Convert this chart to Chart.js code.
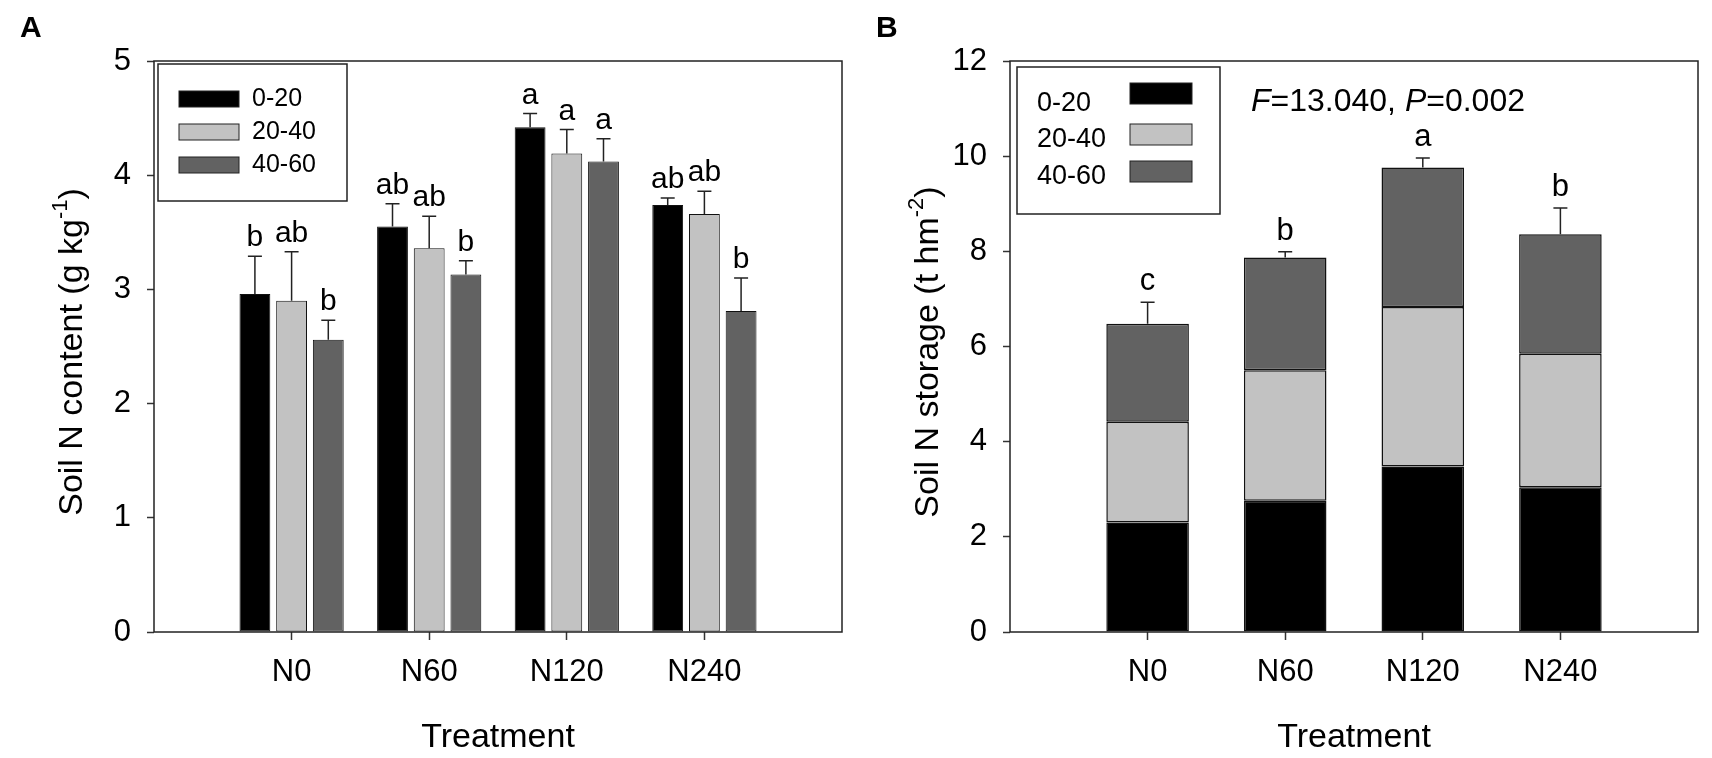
<!DOCTYPE html>
<html>
<head>
<meta charset="utf-8">
<script src="https://cdn.jsdelivr.net/npm/chart.js@4.4.0/dist/chart.umd.min.js"></script>
<style>
  html, body { margin: 0; padding: 0; background: #fff; }
  #wrap { position: relative; width: 1712px; height: 758px; overflow: hidden; }
  canvas { position: absolute; top: 0; }
</style>
</head>
<body>
<div id="wrap">
  <canvas id="chartA" width="856" height="758" style="left:0"></canvas>
  <canvas id="chartB" width="856" height="758" style="left:856px"></canvas>
</div>
<script>
// categories + depth layers
var categories = ['N0', 'N60', 'N120', 'N240'];
var depthLabels = ['0-20', '20-40', '40-60'];
var depthColors = ['#000000', '#c2c2c2', '#626262'];

// A - soil N content (g kg-1)
var contentTop = [2.96, 3.55, 4.42, 3.74];
var contentMid = [2.90, 3.36, 4.19, 3.66];
var contentDeep = [2.56, 3.13, 4.12, 2.81];
var contentTopErr = [0.33, 0.20, 0.12, 0.06];
var contentMidErr = [0.43, 0.28, 0.21, 0.20];
var contentDeepErr = [0.17, 0.12, 0.20, 0.29];
var contentTopSig = ['b', 'ab', 'a', 'ab'];
var contentMidSig = ['ab', 'ab', 'a', 'ab'];
var contentDeepSig = ['b', 'b', 'a', 'b'];
var contentTicks = [0, 1, 2, 3, 4, 5];

// B - soil N storage (t hm-2), stacked
var storageTop = [2.30, 2.76, 3.48, 3.04];
var storageMid = [2.12, 2.74, 3.35, 2.81];
var storageDeep = [2.06, 2.37, 2.93, 2.51];
var storageErr = [0.45, 0.12, 0.20, 0.55];
var storageSig = ['c', 'b', 'a', 'b'];
var storageTicks = [0, 2, 4, 6, 8, 10, 12];

var FONT = "'Liberation Sans', Arial, Helvetica, sans-serif";
Chart.defaults.font.family = FONT;
Chart.defaults.color = '#000';

// empty slot each side so the categories sit at 1..4 of a 0..5 axis
function pad(arr) { return [null].concat(arr, [null]); }
var paddedLabels = [''].concat(categories, ['']);

function drawYTitle(ctx, x, y, main, sup, tail) {
	ctx.save();
	ctx.translate(x, y);
	ctx.rotate(-Math.PI / 2);
	ctx.fillStyle = '#000';
	ctx.textAlign = 'left';
	ctx.textBaseline = 'alphabetic';
	ctx.font = '34px ' + FONT;
	var w1 = ctx.measureText(main).width;
	var w3 = ctx.measureText(tail).width;
	ctx.font = '22px ' + FONT;
	var w2 = ctx.measureText(sup).width;
	var start = -(w1 + w2 + w3) / 2;
	ctx.font = '34px ' + FONT;
	ctx.fillText(main, start, 12);
	ctx.fillText(tail, start + w1 + w2, 12);
	ctx.font = '22px ' + FONT;
	ctx.fillText(sup, start + w1, -3);
	ctx.restore();
}

function drawFrame(chart) {
	var a = chart.chartArea, ctx = chart.ctx;
	ctx.save();
	ctx.strokeStyle = '#222';
	ctx.lineWidth = 1.5;
	ctx.strokeRect(a.left, a.top, a.right - a.left, a.bottom - a.top);
	ctx.restore();
}

function drawPanelLetter(ctx, txt) {
	ctx.save();
	ctx.font = 'bold 30px ' + FONT;
	ctx.fillStyle = '#000';
	ctx.textBaseline = 'middle';
	ctx.fillText(txt, 20, 29);
	ctx.restore();
}

function errCap(ctx, x, yFrom, yTo) {
	ctx.beginPath();
	ctx.moveTo(x, yFrom);
	ctx.lineTo(x, yTo);
	ctx.moveTo(x - 7, yTo);
	ctx.lineTo(x + 7, yTo);
	ctx.stroke();
}

function xAxis() {
	return {
		type: 'category',
		offset: false,
		grid: {
			offset: false,
			drawOnChartArea: false,
			tickLength: 8,
			tickWidth: 1.5,
			tickColor: function(c) { return (c.tick && c.tick.label === '') ? 'rgba(0,0,0,0)' : '#333'; }
		},
		border: { display: false },
		ticks: { color: '#000', font: { size: 31 }, padding: 14, maxRotation: 0, autoSkip: false },
		title: { display: true, text: 'Treatment', color: '#000', font: { size: 34 }, padding: { top: 0, bottom: 0 } },
		afterFit: function(s) { s.height = 126; }
	};
}

function yAxis(max, tickList) {
	return {
		min: 0,
		max: max,
		afterBuildTicks: function(s) { s.ticks = tickList.map(function(v) { return { value: v }; }); },
		grid: { drawOnChartArea: false, tickLength: 7, tickWidth: 1.5, tickColor: '#333' },
		border: { display: false },
		ticks: { color: '#000', font: { size: 31 }, padding: 16 },
		afterFit: function(s) { s.width = 154; }
	};
}

//Panel A
var errA = [contentTopErr, contentMidErr, contentDeepErr];
var sigA = [contentTopSig, contentMidSig, contentDeepSig];

var decoA = {
	id: 'decoA',
	afterDatasetsDraw: function(chart) {
		var ctx = chart.ctx, yS = chart.scales.y;
		ctx.save();
		ctx.strokeStyle = '#222';
		ctx.lineWidth = 1.5;
		ctx.font = '30px ' + FONT;
		ctx.fillStyle = '#000';
		ctx.textAlign = 'center';
		ctx.textBaseline = 'alphabetic';
		chart.data.datasets.forEach(function(ds, i) {
			var meta = chart.getDatasetMeta(i);
			ds.data.forEach(function(v, j) {
				if (v === null) return;
				var bar = meta.data[j];
				var e = errA[i][j - 1];
				var yCap = yS.getPixelForValue(v + e);
				errCap(ctx, bar.x, bar.y, yCap);
				ctx.fillText(sigA[i][j - 1], bar.x, yCap - 10);
			});
		});
		ctx.restore();
	},
	afterDraw: function(chart) {
		var ctx = chart.ctx;
		drawFrame(chart);
		drawPanelLetter(ctx, 'A');
		drawYTitle(ctx, 70, 352, 'Soil N content (g kg', '-1', ')');
		// legend
		ctx.save();
		ctx.lineWidth = 1.5;
		ctx.strokeStyle = '#222';
		ctx.strokeRect(158, 64, 189, 137);
		ctx.font = '25px ' + FONT;
		ctx.textBaseline = 'middle';
		var rows = [99, 132, 165];
		depthLabels.forEach(function(lab, k) {
			ctx.fillStyle = depthColors[k];
			ctx.fillRect(179, rows[k] - 8, 60, 16);
			ctx.lineWidth = 1;
			ctx.strokeRect(179, rows[k] - 8, 60, 16);
			ctx.fillStyle = '#000';
			ctx.fillText(lab, 252, rows[k]);
		});
		ctx.restore();
	}
};

new Chart(document.getElementById('chartA'), {
	type: 'bar',
	data: {
		labels: paddedLabels,
		datasets: [
			{ label: depthLabels[0], data: pad(contentTop), backgroundColor: depthColors[0] },
			{ label: depthLabels[1], data: pad(contentMid), backgroundColor: depthColors[1] },
			{ label: depthLabels[2], data: pad(contentDeep), backgroundColor: depthColors[2] }
		]
	},
	options: {
		responsive: false,
		animation: false,
		devicePixelRatio: 1,
		events: [],
		layout: { padding: { left: 0, top: 61, right: 7, bottom: 0 } },
		datasets: {
			bar: { borderColor: '#111', borderWidth: 1, borderSkipped: false, categoryPercentage: 0.8, barPercentage: 0.84 }
		},
		plugins: { legend: { display: false }, tooltip: { enabled: false } },
		scales: { x: xAxis(), y: yAxis(5, contentTicks) }
	},
	plugins: [decoA]
});

//Panel B
var decoB = {
	id: 'decoB',
	afterDatasetsDraw: function(chart) {
		var ctx = chart.ctx, yS = chart.scales.y;
		var meta = chart.getDatasetMeta(2);
		ctx.save();
		ctx.strokeStyle = '#222';
		ctx.lineWidth = 1.5;
		ctx.font = '31px ' + FONT;
		ctx.fillStyle = '#000';
		ctx.textAlign = 'center';
		categories.forEach(function(c, k) {
			var total = storageTop[k] + storageMid[k] + storageDeep[k];
			var bar = meta.data[k + 1];
			var yCap = yS.getPixelForValue(total + storageErr[k]);
			errCap(ctx, bar.x, yS.getPixelForValue(total), yCap);
			ctx.fillText(storageSig[k], bar.x, yCap - 12);
		});
		ctx.restore();
	},
	afterDraw: function(chart) {
		var ctx = chart.ctx;
		drawFrame(chart);
		drawPanelLetter(ctx, 'B');
		drawYTitle(ctx, 70, 352, 'Soil N storage (t hm', '-2', ')');
		ctx.save();
		ctx.lineWidth = 1.5;
		ctx.strokeStyle = '#222';
		ctx.strokeRect(161, 67, 203, 147);
		ctx.font = '27px ' + FONT;
		ctx.textBaseline = 'middle';
		var textRows = [104, 140, 177];
		var boxRows = [93, 134, 171];
		depthLabels.forEach(function(lab, k) {
			ctx.fillStyle = depthColors[k];
			ctx.fillRect(274, boxRows[k] - 10, 62, 21);
			ctx.lineWidth = 1;
			ctx.strokeRect(274, boxRows[k] - 10, 62, 21);
			ctx.fillStyle = '#000';
			ctx.fillText(lab, 181, textRows[k]);
		});
		// F-test annotation
		var parts = [['F', true], ['=13.040, ', false], ['P', true], ['=0.002', false]];
		var x = 395;
		parts.forEach(function(p) {
			ctx.font = (p[1] ? 'italic ' : '') + '32px ' + FONT;
			ctx.fillText(p[0], x, 102);
			x += ctx.measureText(p[0]).width;
		});
		ctx.restore();
	}
};

new Chart(document.getElementById('chartB'), {
	type: 'bar',
	data: {
		labels: paddedLabels,
		datasets: [
			{ label: depthLabels[0], data: pad(storageTop), backgroundColor: depthColors[0] },
			{ label: depthLabels[1], data: pad(storageMid), backgroundColor: depthColors[1] },
			{ label: depthLabels[2], data: pad(storageDeep), backgroundColor: depthColors[2] }
		]
	},
	options: {
		responsive: false,
		animation: false,
		devicePixelRatio: 1,
		events: [],
		layout: { padding: { left: 0, top: 61, right: 7, bottom: 0 } },
		datasets: {
			bar: { borderColor: '#111', borderWidth: 1.5, borderSkipped: false, categoryPercentage: 0.6, barPercentage: 1.0 }
		},
		plugins: { legend: { display: false }, tooltip: { enabled: false } },
		scales: {
			x: Object.assign(xAxis(), { stacked: true }),
			y: Object.assign(yAxis(12, storageTicks), { stacked: true })
		}
	},
	plugins: [decoB]
});
</script>
</body>
</html>
